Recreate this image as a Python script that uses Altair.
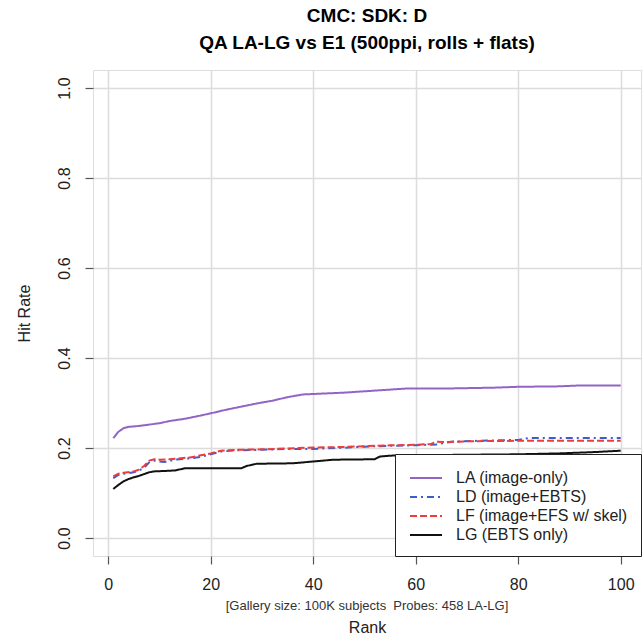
import altair as alt
import pandas as pd

FONT = "Liberation Sans"

series_names = ["LA (image-only)", "LD (image+EBTS)", "LF (image+EFS w/ skel)", "LG (EBTS only)"]
series_colors = ["#9265c5", "#3a5fcd", "#ee3b3b", "#111111"]
series_dashes = [[1, 0], [7, 4, 2, 4], [7, 3], [1, 0]]

la_rank = [1, 2, 3, 4, 6, 8, 10, 12, 15, 18, 20, 23, 26, 29, 32, 35, 38, 42, 46, 50, 54, 58, 65, 70, 75, 80, 88, 92, 100]
la_hit = [0.222, 0.236, 0.244, 0.247, 0.249, 0.252, 0.255, 0.260, 0.265, 0.272, 0.277, 0.285, 0.292, 0.299, 0.305,
          0.313, 0.319, 0.321, 0.323, 0.326, 0.329, 0.332, 0.332, 0.333, 0.334, 0.336, 0.337, 0.339, 0.339]

ld_rank = [1, 2, 3, 5, 6, 7, 8, 9, 10, 11, 13, 16, 18, 20, 22, 25, 30, 35, 40, 45, 50, 55, 60, 64, 67, 72, 80, 82, 100]
ld_hit = [0.133, 0.140, 0.143, 0.146, 0.150, 0.156, 0.168, 0.172, 0.170, 0.169, 0.174, 0.177, 0.180, 0.186, 0.192,
          0.195, 0.196, 0.198, 0.198, 0.200, 0.203, 0.205, 0.206, 0.208, 0.214, 0.216, 0.218, 0.222, 0.222]

lf_rank = [1, 2, 3, 5, 6, 7, 8, 9, 10, 12, 16, 20, 22, 25, 30, 35, 40, 45, 50, 55, 60, 63, 64, 66, 70, 80, 100]
lf_hit = [0.137, 0.143, 0.145, 0.148, 0.152, 0.160, 0.172, 0.175, 0.174, 0.175, 0.179, 0.188, 0.194, 0.196, 0.197,
          0.199, 0.201, 0.202, 0.204, 0.206, 0.207, 0.209, 0.214, 0.213, 0.215, 0.216, 0.216]

lg_rank = [1, 2, 3, 4, 5, 6, 7, 8, 9, 11, 13, 15, 26, 27, 29, 36, 38, 42, 44, 52, 53, 55, 60, 70, 80, 88, 95, 100]
lg_hit = [0.109, 0.118, 0.126, 0.131, 0.135, 0.138, 0.142, 0.146, 0.148, 0.149, 0.150, 0.155, 0.155, 0.160, 0.165,
          0.166, 0.168, 0.172, 0.174, 0.175, 0.181, 0.183, 0.184, 0.185, 0.186, 0.188, 0.191, 0.194]

x_ticks = [0, 20, 40, 60, 80, 100]
y_ticks = [0.0, 0.2, 0.4, 0.6, 0.8, 1.0]

title_lines = ["CMC: SDK: D", "QA LA-LG vs E1 (500ppi, rolls + flats)"]
note_text = "[Gallery size: 100K subjects\u00a0 Probes: 458 LA-LG]"

rows = []
for name, rk, hv in zip(series_names, [la_rank, ld_rank, lf_rank, lg_rank], [la_hit, ld_hit, lf_hit, lg_hit]):
    for r, h in zip(rk, hv):
        rows.append({"series": name, "rank": r, "hit": h})
df = pd.DataFrame(rows)

W, H = 548, 486

legend_params = dict(title=None, orient="bottom-right", offset=0,
                     fillColor="white", strokeColor="#222222",
                     padding=13, rowPadding=0, labelLimit=400,
                     symbolType="M-0.9,0H2.3", symbolSize=400, symbolStrokeWidth=2,
                     labelFont=FONT, labelFontSize=16, labelColor="#222222",
                     labelOffset=26)

lines = alt.Chart(df).mark_line(strokeWidth=2, strokeCap="butt").encode(
    x=alt.X("rank:Q",
            scale=alt.Scale(domain=[-2.96, 103.96], nice=False, zero=False),
            axis=alt.Axis(values=x_ticks, format="d", grid=True, gridColor="#dcdcdc", gridWidth=1.5,
                          domain=False, tickSize=8, tickColor="#555555", tickWidth=1.2,
                          labelFont=FONT, labelFontSize=16, labelColor="#222222", labelPadding=12,
                          title="Rank", titleFont=FONT, titleFontSize=16, titleFontWeight="normal",
                          titleColor="#222222", titlePadding=27)),
    y=alt.Y("hit:Q",
            scale=alt.Scale(domain=[-0.04, 1.04], nice=False, zero=False),
            axis=alt.Axis(values=y_ticks, format=".1f", grid=True, gridColor="#dcdcdc", gridWidth=1.5,
                          domain=False, tickSize=8, tickColor="#555555", tickWidth=1.2,
                          labelFont=FONT, labelFontSize=16, labelColor="#222222", labelPadding=13,
                          labelAngle=270, labelAlign="center", labelBaseline="bottom",
                          title="Hit Rate", titleFont=FONT, titleFontSize=16, titleFontWeight="normal",
                          titleColor="#222222", titlePadding=24)),
    color=alt.Color("series:N", scale=alt.Scale(domain=series_names, range=series_colors),
                    legend=alt.Legend(**legend_params)),
    strokeDash=alt.StrokeDash("series:N", scale=alt.Scale(domain=series_names, range=series_dashes),
                              legend=alt.Legend(**legend_params)),
    order=alt.Order("rank:Q"),
)

note = alt.Chart(pd.DataFrame({"t": [note_text]})).mark_text(
    font=FONT, fontSize=13, color="#333333", align="center", baseline="middle"
).encode(text="t:N", x=alt.value(W / 2), y=alt.value(536))

chart = alt.layer(lines, note).properties(
    width=W, height=H,
    autosize="none",
    padding={"left": 93, "top": 70, "right": 3, "bottom": 87},
    title=alt.TitleParams(text=title_lines, font=FONT, fontSize=19, fontWeight="bold", color="black",
                          anchor="middle", offset=17, lineHeight=27),
).configure_view(stroke="#444444", strokeWidth=1.5).configure_legend(strokeWidth=1.5).configure(background="white")

chart.save("out.html", embed_options={"renderer": "svg", "actions": False})
